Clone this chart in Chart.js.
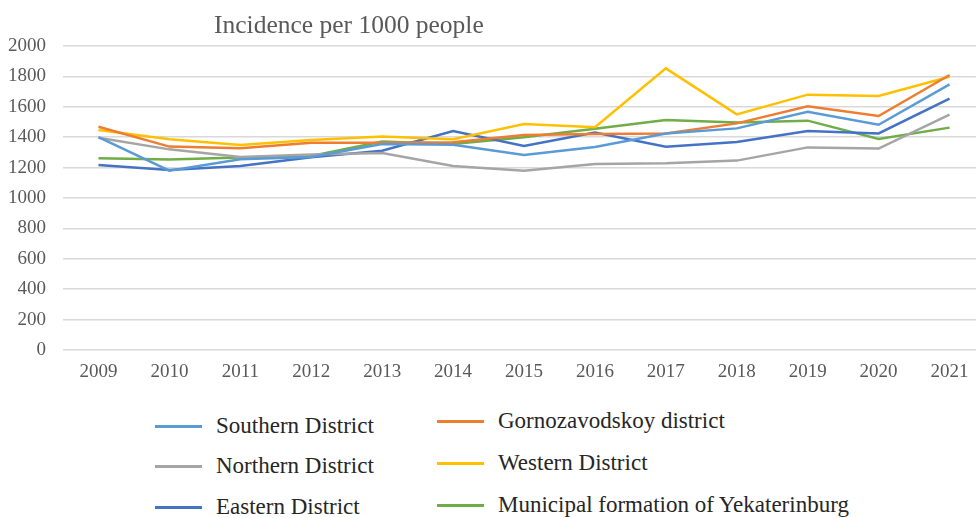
<!DOCTYPE html>
<html lang="en">
<head>
  <meta charset="UTF-8">
  <title>Incidence per 1000 people</title>
  <script src="https://cdn.jsdelivr.net/npm/chart.js"></script>
  <style>
    html, body { margin: 0; padding: 0; background: #fff; overflow: hidden; }
    #wrap { position: relative; width: 976px; height: 518px; overflow: hidden; }
    #chart { position: absolute; left: 0; top: 0; }
    .lg-item {
      position: absolute;
      display: flex;
      align-items: center;
      font-family: "Liberation Serif", "Times New Roman", serif;
      font-size: 23px;
      color: #262626;
      white-space: nowrap;
    }
    .lg-line { width: 47px; height: 3px; margin-right: 14px; }
  </style>
</head>
<body>
  <div id="wrap">
    <canvas id="chart" width="990" height="390"></canvas>
    <div id="legend"></div>
  </div>

  <script>
    // data
    const years = ['2009', '2010', '2011', '2012', '2013', '2014', '2015', '2016', '2017', '2018', '2019', '2020', '2021'];
    const southern = [1400, 1180, 1255, 1270, 1355, 1350, 1283, 1335, 1425, 1458, 1568, 1482, 1748];
    const gornozavodskoy = [1469, 1338, 1327, 1364, 1364, 1366, 1414, 1421, 1425, 1491, 1603, 1539, 1809];
    const northern = [1397, 1320, 1270, 1287, 1296, 1211, 1180, 1224, 1228, 1246, 1333, 1325, 1548];
    const western = [1447, 1386, 1349, 1382, 1404, 1386, 1487, 1465, 1853, 1550, 1680, 1671, 1798];
    const eastern = [1217, 1184, 1211, 1268, 1311, 1441, 1342, 1430, 1338, 1368, 1441, 1425, 1653];
    const municipal = [1261, 1254, 1266, 1276, 1372, 1355, 1400, 1456, 1513, 1496, 1509, 1388, 1463];
    const yTicks = [0, 200, 400, 600, 800, 1000, 1200, 1400, 1600, 1800, 2000];

    const titleText = 'Incidence per 1000 people';
    const serif = '"Liberation Serif", "Times New Roman", serif';

    const series = [
      { label: 'Southern District', data: southern, color: '#5B9BD5' },
      { label: 'Gornozavodskoy district', data: gornozavodskoy, color: '#ED7D31' },
      { label: 'Northern District', data: northern, color: '#A5A5A5' },
      { label: 'Western District', data: western, color: '#FFC000' },
      { label: 'Eastern District', data: eastern, color: '#4472C4' },
      { label: 'Municipal formation of Yekaterinburg', data: municipal, color: '#70AD47' }
    ];

    // title sits left of centre in the original, so draw it by hand
    const titlePlugin = {
      id: 'offsetTitle',
      afterDraw(chart) {
        const c = chart.ctx;
        c.save();
        c.font = '25.5px ' + serif;
        c.fillStyle = '#595959';
        c.textBaseline = 'alphabetic';
        c.fillText(titleText, 214, 33);
        c.restore();
      }
    };

    const ctx = document.getElementById('chart').getContext('2d');
    new Chart(ctx, {
      type: 'line',
      data: {
        labels: years,
        datasets: series.map(s => ({
          label: s.label,
          data: s.data,
          borderColor: s.color,
          backgroundColor: s.color,
          borderWidth: 2.5,
          pointRadius: 0,
          tension: 0,
          fill: false
        }))
      },
      options: {
        responsive: false,
        animation: false,
        devicePixelRatio: 1,
        layout: { padding: { top: 46, right: 5, left: 0, bottom: 0 } },
        plugins: {
          legend: { display: false },
          title: { display: false },
          tooltip: { enabled: false }
        },
        scales: {
          x: {
            offset: true,
            grid: { display: false },
            border: { display: false },
            ticks: {
              color: '#595959',
              font: { family: serif, size: 19 },
              padding: 3,
              maxRotation: 0
            },
            afterFit(scale) { scale.height = 40; }
          },
          y: {
            min: 0,
            max: 2000,
            afterBuildTicks(scale) { scale.ticks = yTicks.map(v => ({ value: v })); },
            grid: { color: '#d9d9d9', lineWidth: 1.5, drawTicks: false },
            border: { display: false },
            ticks: {
              color: '#595959',
              font: { family: serif, size: 19 },
              padding: 17,
              callback: v => String(v)
            },
            afterFit(scale) { scale.width = 63; }
          }
        }
      },
      plugins: [titlePlugin]
    });

    // legend in two columns, three rows
    const legendPos = [
      { left: 155, top: 426 }, { left: 437, top: 421 },
      { left: 155, top: 466 }, { left: 437, top: 463 },
      { left: 155, top: 507 }, { left: 437, top: 505 }
    ];
    const legend = document.getElementById('legend');
    series.forEach((s, i) => {
      const item = document.createElement('div');
      item.className = 'lg-item';
      item.style.left = legendPos[i].left + 'px';
      item.style.top = (legendPos[i].top - 14) + 'px';
      item.style.height = '28px';
      const line = document.createElement('span');
      line.className = 'lg-line';
      line.style.background = s.color;
      const txt = document.createElement('span');
      txt.textContent = s.label;
      item.appendChild(line);
      item.appendChild(txt);
      legend.appendChild(item);
    });
  </script>
</body>
</html>
